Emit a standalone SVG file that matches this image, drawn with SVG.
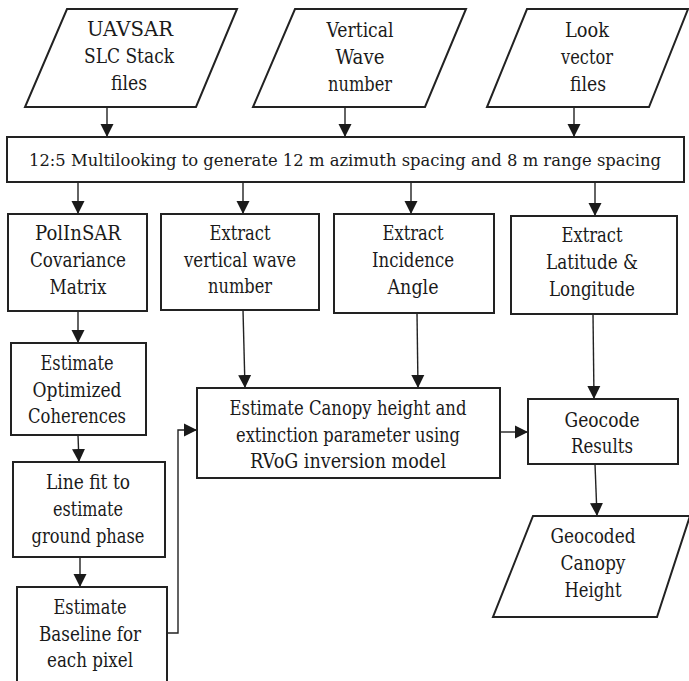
<svg xmlns="http://www.w3.org/2000/svg" width="689" height="681" viewBox="0 0 689 681" font-family="'DejaVu Serif', 'Liberation Serif', serif" font-size="20">
<style>
.n{fill:#fff;stroke:#222;stroke-width:2}
text{fill:#1a1a1a;text-anchor:middle}
.c{fill:none;stroke:#222;stroke-width:1.4}
</style>
<defs>
<marker id="ah" markerUnits="userSpaceOnUse" markerWidth="14" markerHeight="14" viewBox="0 0 14 14" refX="13" refY="7" orient="auto">
<path d="M0,0.5 L13,7 L0,13.5 Z" fill="#1a1a1a"/>
</marker>
</defs>
<rect width="689" height="681" fill="#fff"/>
<g id="connectors">
<path class="c" d="M107,107 V137" marker-end="url(#ah)"/>
<path class="c" d="M345,107 V137" marker-end="url(#ah)"/>
<path class="c" d="M574,107 V137" marker-end="url(#ah)"/>
<path class="c" d="M78,182 V214" marker-end="url(#ah)"/>
<path class="c" d="M243,182 V214" marker-end="url(#ah)"/>
<path class="c" d="M411,182 V214" marker-end="url(#ah)"/>
<path class="c" d="M595,182 V216" marker-end="url(#ah)"/>
<path class="c" d="M78,311 V343" marker-end="url(#ah)"/>
<path class="c" d="M243,310 L245,388" marker-end="url(#ah)"/>
<path class="c" d="M417,313 L418,388" marker-end="url(#ah)"/>
<path class="c" d="M593,314 L594,399" marker-end="url(#ah)"/>
<path class="c" d="M78,435 L79,462" marker-end="url(#ah)"/>
<path class="c" d="M80,557 V587" marker-end="url(#ah)"/>
<path class="c" d="M167,633 H178 V430 H197" marker-end="url(#ah)"/>
<path class="c" d="M500,432 H528" marker-end="url(#ah)"/>
<path class="c" d="M595,464 L597,516" marker-end="url(#ah)"/>
</g>
<g id="uavsar">
<polygon class="n" points="67,9 237,9 196,107 25,107"/>
<text x="130" y="36" textLength="86" lengthAdjust="spacingAndGlyphs">UAVSAR</text>
<text x="129" y="63" textLength="90" lengthAdjust="spacingAndGlyphs">SLC Stack</text>
<text x="129" y="90" textLength="36" lengthAdjust="spacingAndGlyphs">files</text>
</g>
<g id="vwave">
<polygon class="n" points="295,9 466,9 425,107 253,107"/>
<text x="360" y="37" textLength="67" lengthAdjust="spacingAndGlyphs">Vertical</text>
<text x="360" y="64" textLength="49" lengthAdjust="spacingAndGlyphs">Wave</text>
<text x="360" y="91" textLength="64" lengthAdjust="spacingAndGlyphs">number</text>
</g>
<g id="look">
<polygon class="n" points="527,9 688,9 649,107 487,107"/>
<text x="587" y="37" textLength="44" lengthAdjust="spacingAndGlyphs">Look</text>
<text x="587" y="64" textLength="52" lengthAdjust="spacingAndGlyphs">vector</text>
<text x="588" y="91" textLength="36" lengthAdjust="spacingAndGlyphs">files</text>
</g>
<g id="multilook">
<rect class="n" x="7" y="137" width="677" height="45"/>
<text x="345" y="166" font-size="16.5" textLength="632" lengthAdjust="spacingAndGlyphs">12:5 Multilooking to generate 12 m azimuth spacing and 8 m range spacing</text>
</g>
<g id="polinsar">
<rect class="n" x="8" y="214" width="139" height="97"/>
<text x="78" y="240" textLength="86" lengthAdjust="spacingAndGlyphs">PolInSAR</text>
<text x="78" y="267" textLength="96" lengthAdjust="spacingAndGlyphs">Covariance</text>
<text x="78" y="294" textLength="57" lengthAdjust="spacingAndGlyphs">Matrix</text>
</g>
<g id="extract-vwave">
<rect class="n" x="161" y="214" width="158" height="96"/>
<text x="240" y="240" textLength="61" lengthAdjust="spacingAndGlyphs">Extract</text>
<text x="240" y="267" textLength="112" lengthAdjust="spacingAndGlyphs">vertical wave</text>
<text x="240" y="293" textLength="64" lengthAdjust="spacingAndGlyphs">number</text>
</g>
<g id="extract-incidence">
<rect class="n" x="334" y="214" width="160" height="99"/>
<text x="413" y="240" textLength="61" lengthAdjust="spacingAndGlyphs">Extract</text>
<text x="413" y="267" textLength="82" lengthAdjust="spacingAndGlyphs">Incidence</text>
<text x="413" y="294" textLength="51" lengthAdjust="spacingAndGlyphs">Angle</text>
</g>
<g id="extract-latlon">
<rect class="n" x="511" y="216" width="166" height="98"/>
<text x="592" y="242" textLength="61" lengthAdjust="spacingAndGlyphs">Extract</text>
<text x="592" y="269" textLength="92" lengthAdjust="spacingAndGlyphs">Latitude &amp;</text>
<text x="592" y="296" textLength="86" lengthAdjust="spacingAndGlyphs">Longitude</text>
</g>
<g id="coherences">
<rect class="n" x="11" y="343" width="135" height="92"/>
<text x="77" y="370" textLength="73" lengthAdjust="spacingAndGlyphs">Estimate</text>
<text x="77" y="397" textLength="89" lengthAdjust="spacingAndGlyphs">Optimized</text>
<text x="77" y="423" textLength="98" lengthAdjust="spacingAndGlyphs">Coherences</text>
</g>
<g id="linefit">
<rect class="n" x="13" y="462" width="152" height="95"/>
<text x="88" y="489" textLength="84" lengthAdjust="spacingAndGlyphs">Line fit to</text>
<text x="88" y="516" textLength="70" lengthAdjust="spacingAndGlyphs">estimate</text>
<text x="88" y="543" textLength="113" lengthAdjust="spacingAndGlyphs">ground phase</text>
</g>
<g id="baseline">
<rect class="n" x="17" y="587" width="150" height="110"/>
<text x="90" y="614" textLength="73" lengthAdjust="spacingAndGlyphs">Estimate</text>
<text x="90" y="641" textLength="102" lengthAdjust="spacingAndGlyphs">Baseline for</text>
<text x="90" y="667" textLength="86" lengthAdjust="spacingAndGlyphs">each pixel</text>
</g>
<g id="canopy">
<rect class="n" x="197" y="388" width="303" height="90"/>
<text x="348" y="415" textLength="237" lengthAdjust="spacingAndGlyphs">Estimate Canopy height and</text>
<text x="348" y="442" textLength="224" lengthAdjust="spacingAndGlyphs">extinction parameter using</text>
<text x="348" y="468" textLength="196" lengthAdjust="spacingAndGlyphs">RVoG inversion model</text>
</g>
<g id="geocode">
<rect class="n" x="528" y="399" width="150" height="65"/>
<text x="602" y="427" textLength="75" lengthAdjust="spacingAndGlyphs">Geocode</text>
<text x="602" y="453" textLength="62" lengthAdjust="spacingAndGlyphs">Results</text>
</g>
<g id="geocoded">
<polygon class="n" points="533,516 690,516 657,617 493,617"/>
<text x="593" y="543" textLength="85" lengthAdjust="spacingAndGlyphs">Geocoded</text>
<text x="593" y="570" textLength="65" lengthAdjust="spacingAndGlyphs">Canopy</text>
<text x="593" y="597" textLength="57" lengthAdjust="spacingAndGlyphs">Height</text>
</g>
</svg>
